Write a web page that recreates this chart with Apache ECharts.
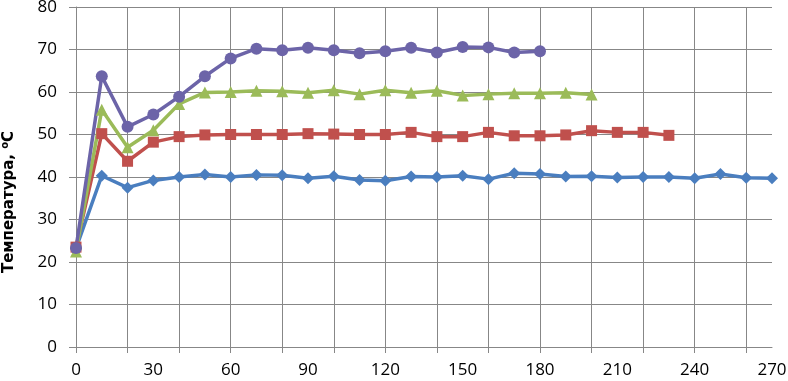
<!DOCTYPE html>
<html>
<head>
<meta charset="utf-8">
<script src="https://cdn.jsdelivr.net/npm/echarts@6/dist/echarts.min.js"></script>
<style>
html,body{margin:0;padding:0;background:#fff;}
#chart{width:788px;height:381px;}
</style>
</head>
<body>
<div id="chart"></div>
<script>
var categories = ['0','10','20','30','40','50','60','70','80','90','100','110','120','130','140','150','160','170','180','190','200','210','220','230','240','250','260','270'];
var blueValues = [23.2,40.3,37.5,39.2,40,40.6,40,40.5,40.4,39.7,40.2,39.3,39.1,40.1,40,40.3,39.5,40.9,40.7,40.1,40.2,39.9,40,40,39.7,40.7,39.8,39.7];
var redValues = [23.5,50.2,43.7,48.2,49.5,49.9,50,50,50,50.2,50.1,50,50,50.5,49.5,49.5,50.5,49.7,49.7,49.9,50.9,50.5,50.5,49.8];
var greenValues = [22.5,55.8,47,51,57.2,59.9,60,60.3,60.2,59.8,60.4,59.5,60.4,59.8,60.3,59.2,59.5,59.7,59.7,59.8,59.4];
var purpleValues = [23.3,63.7,51.8,54.7,58.9,63.7,67.9,70.2,69.8,70.4,69.8,69.1,69.6,70.4,69.3,70.6,70.5,69.3,69.6];
var yTitle = '{a|Температура, }{s|o}{a|C}';

var gridColor = '#878787';
var fontFam = '"Open Sans", sans-serif';
var titleFam = '"DejaVu Sans", sans-serif';

function mk(name, data, color, symbol, size) {
  return {
    name: name, type: 'line', data: data, symbol: symbol, symbolSize: size,
    showSymbol: true, animation: false,
    lineStyle: {color: color, width: 3.5},
    itemStyle: {color: color, borderWidth: 0}
  };
}

var chart = echarts.init(document.getElementById('chart'), null, {renderer: 'canvas'});
chart.setOption({
  animation: false,
  grid: {left: 76, right: 16, top: 7, bottom: 34, containLabel: false, outerBoundsMode: 'none'},
  xAxis: {
    type: 'category', data: categories, boundaryGap: false,
    axisLine: {show: true, lineStyle: {color: gridColor, width: 1}},
    axisTick: {show: true, interval: 1, length: 6, lineStyle: {color: gridColor}},
    splitLine: {show: true, interval: 1, lineStyle: {color: gridColor, width: 1}},
    axisLabel: {interval: 2, margin: 15, color: '#000', fontSize: 17, fontFamily: fontFam}
  },
  yAxis: {
    type: 'value', min: 0, max: 80, interval: 10,
    name: yTitle, nameLocation: 'middle', nameGap: 57, nameRotate: 90,
    nameTextStyle: {
      padding: [0, 50, 0, 0],
      rich: {
        a: {fontSize: 15, fontWeight: 'bold', fontFamily: titleFam, color: '#000', lineHeight: 20},
        s: {fontSize: 10, fontWeight: 'bold', fontFamily: titleFam, color: '#000', lineHeight: 20, padding: [0, 0, 8, 0]}
      }
    },
    axisLine: {show: true, lineStyle: {color: gridColor, width: 1}},
    axisTick: {show: true, length: 7, lineStyle: {color: gridColor}},
    splitLine: {show: true, lineStyle: {color: gridColor, width: 1}},
    axisLabel: {margin: 19, color: '#000', fontSize: 17, fontFamily: fontFam}
  },
  series: [
    mk('s1', blueValues, '#4A7EBF', 'diamond', 12),
    mk('s2', redValues, '#C0504D', 'rect', 11),
    mk('s3', greenValues, '#9BBB59', 'triangle', 12),
    mk('s4', purpleValues, '#6C64A8', 'circle', 12)
  ]
});
</script>
</body>
</html>
